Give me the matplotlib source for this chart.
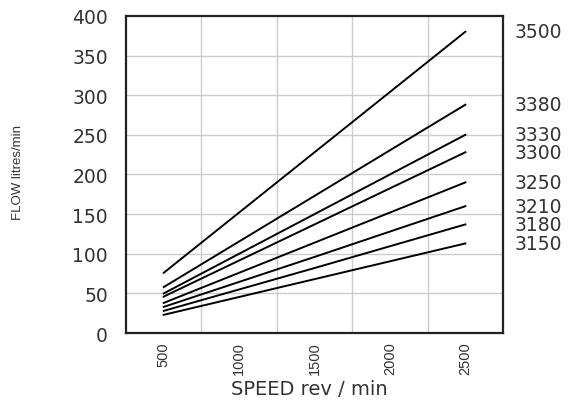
import matplotlib
matplotlib.use("Agg")
import matplotlib.pyplot as plt

# speed points (rev/min) and flow (litres/min) for each pump size
speed = [500, 1500, 2500]
flow_3500 = [76, 228, 380]
flow_3380 = [58, 173, 288]
flow_3330 = [50, 150, 250]
flow_3300 = [46, 137, 228]
flow_3250 = [38, 114, 190]
flow_3210 = [33, 96, 160]
flow_3180 = [28, 82, 137]
flow_3150 = [23, 68, 113]

series = [flow_3500, flow_3380, flow_3330, flow_3300,
          flow_3250, flow_3210, flow_3180, flow_3150]
names = ["3500", "3380", "3330", "3300", "3250", "3210", "3180", "3150"]

x_ticks = [500, 1000, 1500, 2000, 2500]
x_grid = [750, 1250, 1750, 2250]
y_ticks = [0, 50, 100, 150, 200, 250, 300, 350, 400]

fig = plt.figure(figsize=(5.71, 4.02), dpi=100)
ax = fig.add_axes([0.2207, 0.169, 0.6603, 0.789])

for vals, name in zip(series, names):
    ax.plot(speed, vals, color="black", lw=1.4)
    ax.text(1.03, vals[-1], name, transform=ax.get_yaxis_transform(),
            ha="left", va="center", fontsize=13.5, color="#333333")

ax.set_xlim(250, 2750)
ax.set_ylim(0, 400)

# grid lines sit between the labelled speeds
for gx in x_grid:
    ax.axvline(gx, color="#cccccc", lw=1, zorder=0)
for gy in y_ticks[1:-1]:
    ax.axhline(gy, color="#cccccc", lw=1, zorder=0)

ax.set_yticks(y_ticks)
ax.set_xticks(x_ticks)
ax.set_xticklabels([str(v) for v in x_ticks], rotation=90,
                   family="Liberation Sans", fontsize=10.5)
ax.tick_params(axis="y", length=0, pad=13, labelsize=13.5, labelcolor="#333333")
ax.tick_params(axis="x", length=0, pad=6, labelcolor="#333333")

for s in ax.spines.values():
    s.set_linewidth(1.6)
    s.set_color("#222222")

fig.text(309 / 571, 1 - 390 / 402, "SPEED rev / min", fontsize=14,
         color="#333333", ha="center", va="center")
fig.text(18 / 571, 1 - 172 / 402, "FLOW litres/min", fontsize=9.5,
         family="Liberation Sans", rotation=90,
         color="#333333", ha="center", va="center")

fig.savefig("out.png", dpi=100)
